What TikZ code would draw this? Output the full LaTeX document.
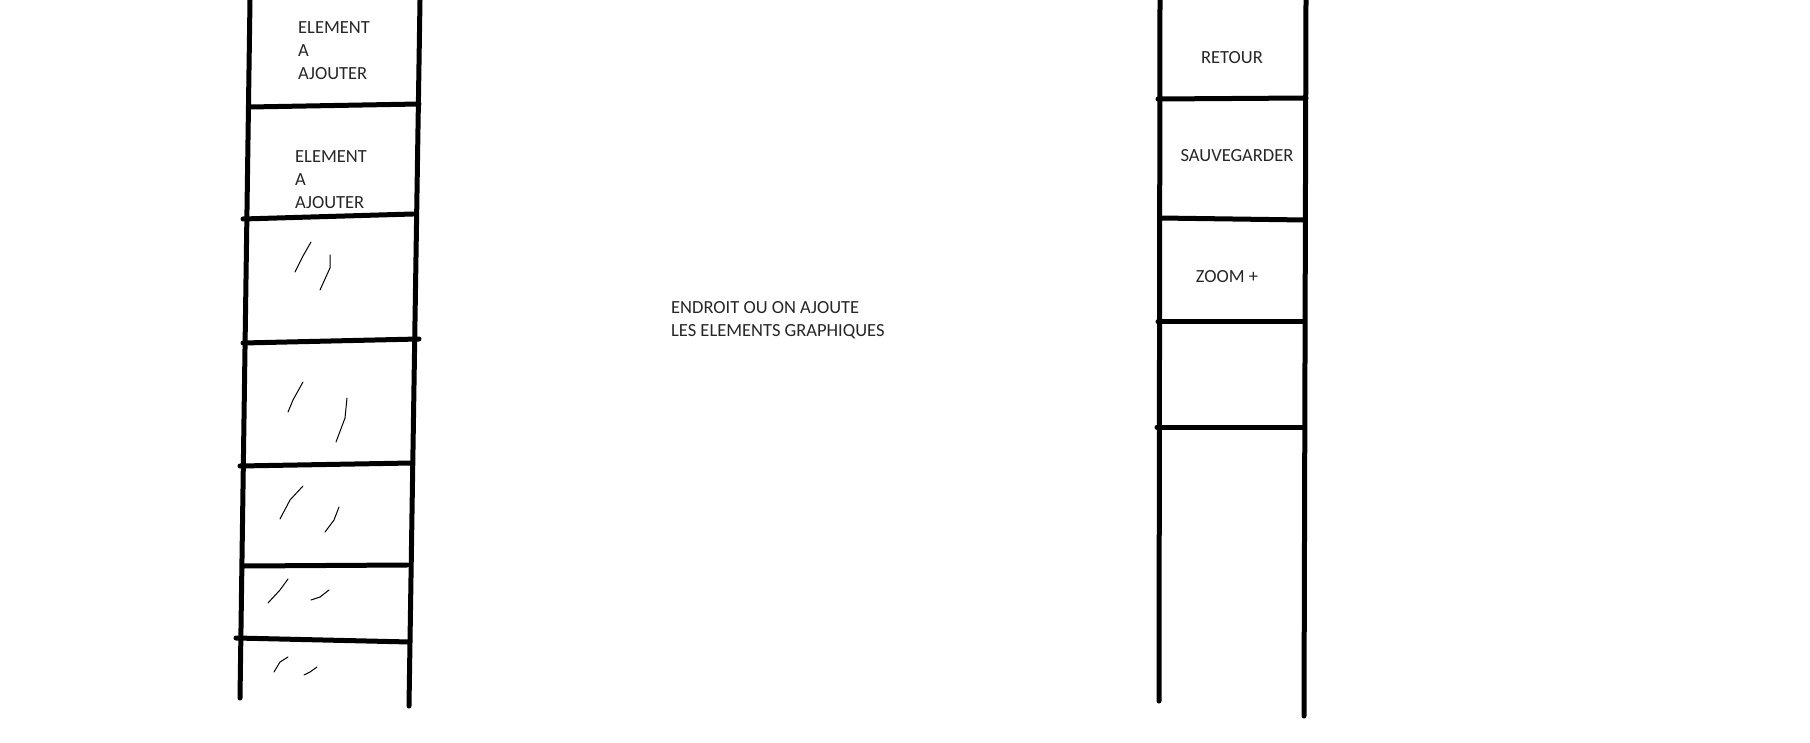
\documentclass[tikz,border=0pt]{standalone}
\usepackage{fontspec}
\setmainfont{Carlito}
\tikzset{bar/.style = {line width = 5pt, line cap = round}}
\tikzset{scratch/.style = {line width = 1pt, line cap = round}}
\tikzset{label/.style = {inner sep = 0, anchor = north west, align = left, text = black!85,
                         font = \fontsize{18.5}{23}\selectfont}}

\begin{document}
\begin{tikzpicture}[x=1pt, y=-1pt]
      \useasboundingbox (0,0) rectangle (1810,743);
      % left column
      \draw [bar] (250,0) -- (240,698);
      \draw [bar] (420,0) -- (409,706);
      \draw [bar] (250,107) -- (419,104);
      \draw [bar] (243,219) -- (413,214);
      \draw [bar] (243,343) -- (419,339);
      \draw [bar] (240,466) -- (412,463);
      \draw [bar] (244,566) -- (407,565);
      \draw [bar] (236,638) -- (410,642);
      \node [label] (elemA) at (298,21) {ELEMENT\\A\\AJOUTER};
      \node [label] (elemB) at (295,150) {ELEMENT\\A\\AJOUTER};
      % scribbles
      \draw [scratch] (311,242) -- (303,256) -- (295,272);
      \draw [scratch] (330,255) -- (330,268) -- (320,290);
      \draw [scratch] (303,382) -- (293,400) -- (288,412);
      \draw [scratch] (347,398) -- (345,418) -- (336,442);
      \draw [scratch] (303,486) -- (290,500) -- (280,519);
      \draw [scratch] (339,507) -- (334,520) -- (325,532);
      \draw [scratch] (288,579) -- (280,590) -- (268,603);
      \draw [scratch] (329,590) -- (320,597) -- (311,600);
      \draw [scratch] (288,657) -- (280,662) -- (274,672);
      \draw [scratch] (317,667) -- (310,672) -- (304,675);
      % drawing area
      \node [label] (area) at (671,301) {ENDROIT OU ON AJOUTE\\LES ELEMENTS GRAPHIQUES};
      % right column
      \draw [bar] (1160,0) -- (1159,701);
      \draw [bar] (1306,0) -- (1304,716);
      \draw [bar] (1158,99) -- (1306,98);
      \draw [bar] (1160,218) -- (1305,220);
      \draw [bar] (1158,322) -- (1304,322);
      \draw [bar] (1157,427) -- (1304,427);
      \node [label, anchor = base] (retour) at (1232,64) {RETOUR};
      \node [label, anchor = base] (sauve) at (1237,162) {SAUVEGARDER};
      \node [label, anchor = base] (zoom) at (1227,283) {ZOOM +};
    \end{tikzpicture}
\end{document}
